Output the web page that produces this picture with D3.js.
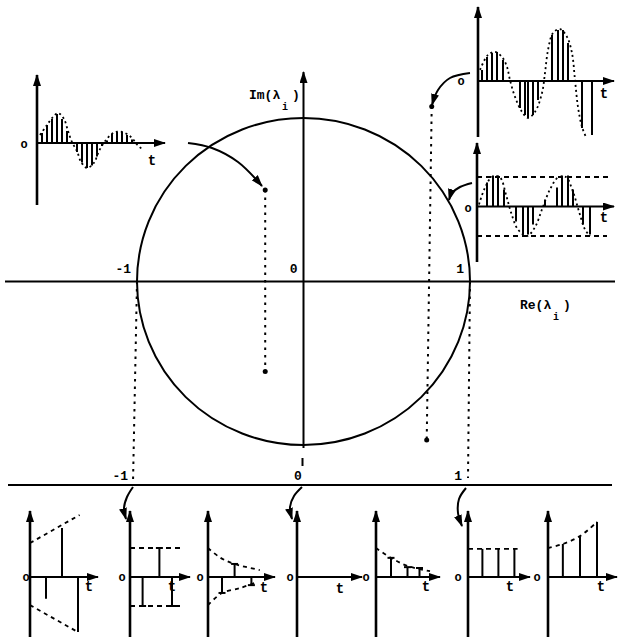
<!DOCTYPE html>
<html>
<head>
<meta charset="utf-8">
<script src="https://cdn.jsdelivr.net/npm/d3@7"></script>
<style>
body { margin: 0; background: #fff; }
svg { display: block; }
text { font-family: "Liberation Mono", "DejaVu Sans Mono", monospace; font-weight: bold; fill: #000; }
</style>
</head>
<body>
<div id="chart"></div>
<script>
// eigenvalues in the complex plane
const innerPair = [{re: -0.23, im: 0.56}, {re: -0.23, im: -0.55}];
const outerPair = [{re: 0.77, im: 1.07}, {re: 0.74, im: -0.97}];
const planeTicks = [{v: -1, label: "-1"}, {v: 0, label: "0"}, {v: 1, label: "1"}];
const lineTicks = [{v: -1, label: "-1"}, {v: 0, label: "0"}, {v: 1, label: "1"}];

// top left: damped oscillation  [t, value]
const dampedStems = [[1,0.33],[2,0.6],[3,0.8],[4,0.97],[5,0.8],[6,0.4],[7,0.03],[8,-0.3],[9,-0.65],[10,-0.83],[11,-0.75],[12,-0.45],[13,-0.1],[14,0.08],[15,0.3],[16,0.37],[17,0.37],[18,0.27],[19,0.12]];
const dampedCurve = [[0.6,0.27],[2,0.6],[3.2,0.87],[4.2,1.0],[5.4,0.8],[6.2,0.4],[7,0.03],[8,-0.27],[8.8,-0.63],[10,-0.83],[11.4,-0.66],[12.4,-0.27],[13.8,0.1],[15.4,0.35],[17,0.37],[18.8,0.2],[20,-0.05],[21,-0.2]];

// top right: growing oscillation
const growStems = [[0.8,0.37],[1.8,0.8],[2.8,0.93],[3.8,0.97],[5,0.7],[8.4,-0.9],[9.4,-1.13],[10,-1.23],[11,-1.13],[12,-0.63],[14.8,1.53],[16,1.7],[17,1.7],[18,1.27],[20.8,-1.57],[22.8,-1.8]];
const growCurve = [[0.4,0.37],[2,0.87],[3.4,0.97],[4.8,0.8],[5.8,0.47],[6.4,0.03],[7.4,-0.53],[8.8,-1.03],[10,-1.23],[11.4,-1.03],[12.8,-0.4],[13.4,0.27],[14,1.03],[15,1.6],[16.4,1.73],[17.8,1.47],[18.8,0.93],[19.4,0.03],[20,-0.87],[20.8,-1.53],[21.6,-1.87]];

// right: constant oscillation (pair on the unit circle)
const constStems = [[2,0.81],[3.2,1.05],[4.2,1.05],[5.4,0.58],[7.8,-0.51],[9.2,-0.95],[10.2,-0.95],[11.2,-0.61],[13.6,0.24],[16,0.64],[17,1.05],[18.2,1.05],[19.2,0.58],[21.2,-0.61],[22.6,-0.95]];
const constCurve = [[0.4,0.07],[1.6,0.64],[3,1],[4.6,0.98],[5.8,0.4],[6.8,-0.2],[8.2,-0.78],[10,-1],[11.6,-0.7],[13,-0.1],[14.6,0.58],[16.2,0.98],[17.8,1],[19.2,0.5],[20.4,-0.17],[21.6,-0.78],[22.6,-1]];

// bottom row, real eigenvalues from left to right
const b1Stems = [[1,-0.75],[2,1.69],[3,-1.9]];
const b1Upper = [[0,1.17],[3.1,2.14]];
const b1Lower = [[0,-0.97],[3,-1.9]];
const b2Stems = [[0.9,-1],[2.1,1],[3,-1]];
const b3Stems = [[1,-0.55],[1.9,0.45],[3.1,-0.28]];
const b3Upper = [[0,1],[0.9,0.66],[1.9,0.45],[3.7,0.24]];
const b3Lower = [[0,-0.97],[1,-0.55],[2.3,-0.38],[3.3,-0.21]];
const b5Stems = [[1,0.66],[2.1,0.34],[2.9,0.31]];
const b5Upper = [[0,1],[1,0.66],[2.1,0.38],[3.6,0.2]];
const b6Stems = [[0.9,0.97],[1.9,0.97],[2.9,0.97]];
const b7Stems = [[0.9,1.14],[1.94,1.41],[2.97,1.9]];
const b7Upper = [[0,1],[0.9,1.14],[1.94,1.41],[2.97,1.9]];

const svg = d3.select("#chart").append("svg").attr("width", 618).attr("height", 640);

const defs = svg.append("defs");
defs.append("marker")
    .attr("id", "arrow")
    .attr("viewBox", "0 0 12 8")
    .attr("refX", 11).attr("refY", 4)
    .attr("markerWidth", 12).attr("markerHeight", 8)
    .attr("markerUnits", "userSpaceOnUse")
    .attr("orient", "auto")
    .append("path").attr("d", "M0,0 L12,4 L0,8 Z").attr("fill", "#000");

function seg(g, x1, y1, x2, y2, w, dash) {
    return g.append("line")
        .attr("x1", x1).attr("y1", y1).attr("x2", x2).attr("y2", y2)
        .attr("stroke", "#000").attr("stroke-width", w)
        .attr("stroke-dasharray", dash || null);
}

// ---- complex plane ----
const xRe = d3.scaleLinear().domain([-1, 1]).range([137, 470]);
const yIm = d3.scaleLinear().domain([-1, 1]).range([445, 118]);

svg.append("ellipse")
    .attr("cx", xRe(0)).attr("cy", yIm(0))
    .attr("rx", xRe(1) - xRe(0)).attr("ry", yIm(0) - yIm(1))
    .attr("fill", "none").attr("stroke", "#000").attr("stroke-width", 2);

seg(svg, 5, yIm(0), 615, yIm(0), 2);
seg(svg, xRe(0), yIm(-1) + 3, xRe(0), 72, 2).attr("marker-end", "url(#arrow)");
seg(svg, xRe(0) - 1, 458, xRe(0) - 1, 466, 2);

svg.selectAll(".ptick").data(planeTicks).enter().append("text")
    .attr("x", d => xRe(d.v) - 6).attr("y", yIm(0) - 9)
    .attr("text-anchor", "end").attr("font-size", 13)
    .text(d => d.label);

function subLabel(x, y, main) {
    svg.append("text").attr("x", x).attr("y", y).attr("font-size", 13).text(main);
    svg.append("text").attr("x", x + 33).attr("y", y + 11).attr("font-size", 10).text("i");
    svg.append("text").attr("x", x + 43).attr("y", y).attr("font-size", 13).text(")");
}
subLabel(249, 99, "Im(λ");
subLabel(520, 309, "Re(λ");

// vertical dotted lines joining each conjugate pair
[innerPair, outerPair].forEach(pair => {
    seg(svg, xRe(pair[0].re), yIm(pair[0].im), xRe(pair[1].re), yIm(pair[1].im), 2, "2.5,5");
    svg.selectAll(null).data(pair).enter().append("circle")
        .attr("cx", d => xRe(d.re)).attr("cy", d => yIm(d.im)).attr("r", 2.5);
});

// ---- real line ----
const xLine = d3.scaleLinear().domain([-1, 1]).range([133, 467]);
const yLine = 485;
seg(svg, 8, yLine, 612, yLine, 2);
svg.selectAll(".ltick").data(lineTicks).enter().append("text")
    .attr("x", d => d.v === 0 ? xLine(d.v) - 2 : xLine(d.v) - 5)
    .attr("y", yLine - 5)
    .attr("text-anchor", d => d.v === 0 ? "middle" : "end").attr("font-size", 13)
    .text(d => d.label);

// dotted drop lines from -1 and 1 on the circle to the real line
seg(svg, xRe(-1), yIm(0), xLine(-1), yLine - 2, 2, "2.5,5");
seg(svg, xRe(1), yIm(0), xLine(1) + 1, yLine - 7, 2, "2.5,5");

// ---- curved pointer arrows ----
const curve = d3.line().curve(d3.curveCatmullRom);
const pointers = [
    [[188, 143], [212, 148], [238, 162], [262, 186]],
    [[470, 73], [450, 78], [438, 90], [432, 105]],
    [[472, 183], [460, 187], [452, 193], [449, 200]],
    [[133, 487], [127, 497], [124, 508], [126, 519]],
    [[302, 487], [294, 496], [290, 507], [292, 519]],
    [[466, 488], [459, 499], [458, 513], [462, 526]]
];
svg.selectAll(".pointer").data(pointers).enter().append("path")
    .attr("d", curve).attr("fill", "none")
    .attr("stroke", "#000").attr("stroke-width", 2)
    .attr("marker-end", "url(#arrow)");

// ---- small time plots ----
function drawInset(cfg) {
    const g = svg.append("g");
    const x = d3.scaleLinear().domain([0, 1]).range([cfg.x0, cfg.x0 + cfg.step]);
    const y = d3.scaleLinear().domain([0, 1]).range([cfg.y0, cfg.y0 - cfg.unit]);

    seg(g, cfg.x0, cfg.yBottom, cfg.x0, cfg.yTop, 2.6).attr("marker-end", "url(#arrow)");
    seg(g, cfg.x0, cfg.y0, cfg.xEnd, cfg.y0, 2.2).attr("marker-end", "url(#arrow)");
    g.append("text").attr("x", cfg.o[0]).attr("y", cfg.o[1])
        .attr("text-anchor", "middle").attr("font-size", 12).text("o");
    g.append("text").attr("x", cfg.t[0]).attr("y", cfg.t[1])
        .attr("text-anchor", "middle").attr("font-size", 14).text("t");

    (cfg.bands || []).forEach(b => {
        seg(g, x(b.from), y(b.v), x(b.to), y(b.v), 1.8, "5,4");
    });
    (cfg.curves || []).forEach(c => {
        g.append("path")
            .attr("d", d3.line().x(d => x(d[0])).y(d => y(d[1])).curve(d3.curveCatmullRom)(c.pts))
            .attr("fill", "none").attr("stroke", "#000").attr("stroke-width", c.w || 1.8)
            .attr("stroke-dasharray", c.dash);
    });
    g.selectAll(".stem").data(cfg.stems || []).enter().append("line")
        .attr("x1", d => x(d[0])).attr("x2", d => x(d[0]))
        .attr("y1", y(0)).attr("y2", d => y(d[1]))
        .attr("stroke", "#000").attr("stroke-width", cfg.stemW || 2);
    if (cfg.caps) {
        g.selectAll(".cap").data(cfg.stems).enter().append("line")
            .attr("x1", d => x(d[0]) - 3.5).attr("x2", d => x(d[0]) + 3.5)
            .attr("y1", d => y(d[1])).attr("y2", d => y(d[1]))
            .attr("stroke", "#000").attr("stroke-width", 2);
    }
}

const dotted = "2,3";
const dashed = "4,4";

drawInset({x0: 37, y0: 143, step: 5, unit: 30, yTop: 75, yBottom: 205, xEnd: 165,
    o: [24, 148], t: [152, 165], stems: dampedStems,
    curves: [{pts: dampedCurve, dash: dotted}]});
drawInset({x0: 478, y0: 81, step: 5, unit: 30, yTop: 7, yBottom: 137, xEnd: 614,
    o: [461, 85], t: [604, 98], stems: growStems,
    curves: [{pts: growCurve, dash: dotted}]});
drawInset({x0: 477, y0: 206.5, step: 5, unit: 29.5, yTop: 143, yBottom: 262, xEnd: 614,
    o: [468, 212], t: [604, 222], stems: constStems,
    curves: [{pts: constCurve, dash: dotted}],
    bands: [{v: 1, from: 0, to: 27}, {v: -1, from: 0, to: 26}]});

const rowY = 577;
drawInset({x0: 30, y0: rowY, step: 16, unit: 29, yTop: 511, yBottom: 637, xEnd: 98,
    o: [26, 581], t: [89, 591], stems: b1Stems,
    curves: [{pts: b1Upper, dash: dashed}, {pts: b1Lower, dash: dashed}]});
drawInset({x0: 130, y0: rowY, step: 14, unit: 29, yTop: 511, yBottom: 637, xEnd: 190,
    o: [122, 581], t: [172, 591], stems: b2Stems, caps: true,
    bands: [{v: 1, from: 0, to: 3.7}, {v: -1, from: 0, to: 3.7}]});
drawInset({x0: 208, y0: rowY, step: 14, unit: 29, yTop: 511, yBottom: 637, xEnd: 275,
    o: [200, 581], t: [264, 592], stems: b3Stems, caps: true,
    curves: [{pts: b3Upper, dash: dashed}, {pts: b3Lower, dash: dashed}]});
drawInset({x0: 297, y0: rowY, step: 14, unit: 29, yTop: 511, yBottom: 637, xEnd: 362,
    o: [290, 581], t: [340, 593]});
drawInset({x0: 376, y0: rowY, step: 15, unit: 29, yTop: 511, yBottom: 637, xEnd: 440,
    o: [366, 581], t: [426, 591], stems: b5Stems, caps: true,
    curves: [{pts: b5Upper, dash: dashed}]});
drawInset({x0: 468, y0: rowY, step: 16, unit: 29, yTop: 511, yBottom: 637, xEnd: 530,
    o: [458, 581], t: [510, 591], stems: b6Stems,
    bands: [{v: 0.97, from: 0, to: 3.1}]});
drawInset({x0: 548, y0: rowY, step: 16.5, unit: 29, yTop: 511, yBottom: 637, xEnd: 617,
    o: [537, 581], t: [601, 591], stems: b7Stems,
    curves: [{pts: b7Upper, dash: dashed}]});
</script>
</body>
</html>
